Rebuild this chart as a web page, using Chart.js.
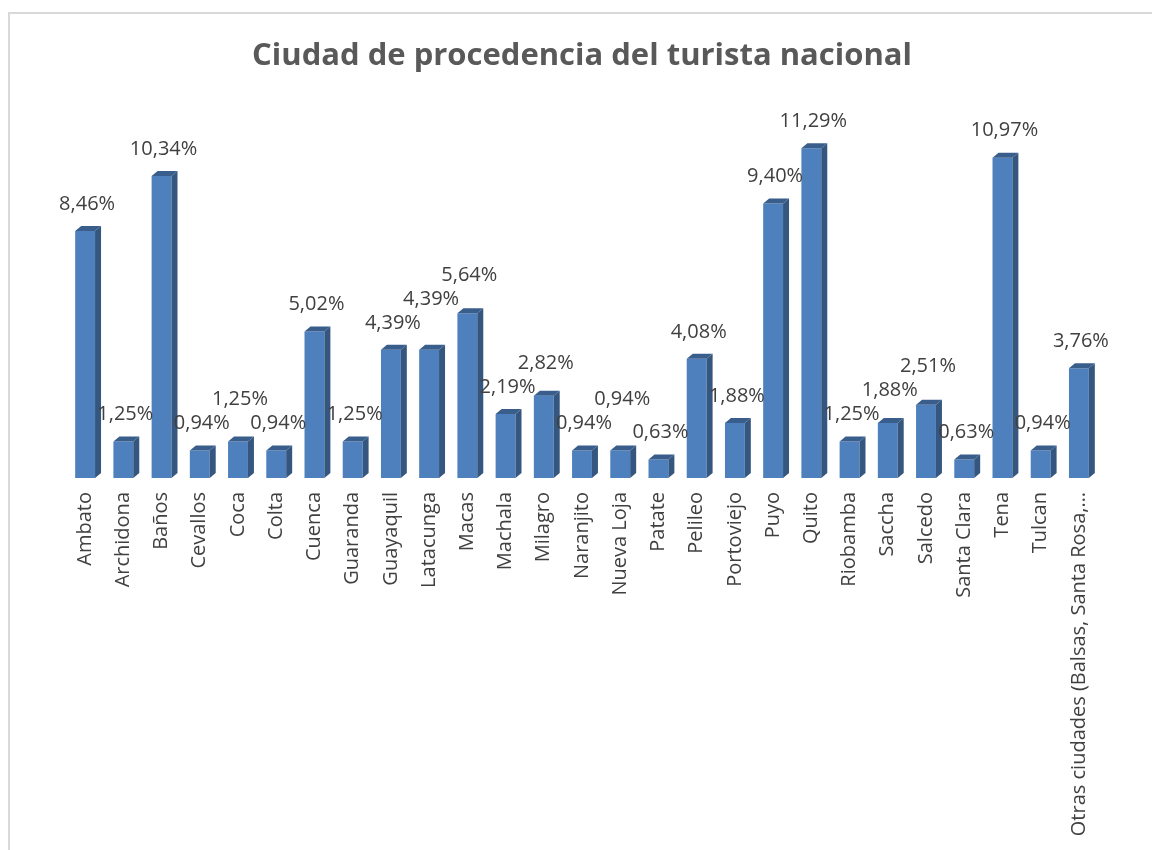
<!DOCTYPE html>
<html>
<head>
<meta charset="utf-8">
<script src="https://cdn.jsdelivr.net/npm/chart.js@4/dist/chart.umd.min.js"></script>
<style>
html,body{margin:0;padding:0;background:#fff;}
#wrap{position:relative;width:1152px;height:850px;}
</style>
</head>
<body>
<div id="wrap"><canvas id="c" width="1152" height="850"></canvas></div>
<script>
const categories = ["Ambato","Archidona","Baños","Cevallos","Coca","Colta","Cuenca","Guaranda","Guayaquil","Latacunga","Macas","Machala","Milagro","Naranjito","Nueva Loja","Patate","Pelileo","Portoviejo","Puyo","Quito","Riobamba","Saccha","Salcedo","Santa Clara","Tena","Tulcan","Otras ciudades (Balsas, Santa Rosa,…"];
const values = [8.46,1.25,10.34,0.94,1.25,0.94,5.02,1.25,4.39,4.39,5.64,2.19,2.82,0.94,0.94,0.63,4.08,1.88,9.40,11.29,1.25,1.88,2.51,0.63,10.97,0.94,3.76];
const titleText = "Ciudad de procedencia del turista nacional";

const FONT = "'Open Sans', 'DejaVu Sans', sans-serif";

const frame = {
  id: 'frame',
  beforeDraw(chart) {
    const ctx = chart.ctx;
    ctx.save();
    ctx.fillStyle = '#ffffff';
    ctx.fillRect(0, 0, chart.width, chart.height);
    ctx.strokeStyle = '#d9d9d9';
    ctx.lineWidth = 2;
    ctx.strokeRect(9, 13, chart.width + 20, chart.height + 20);
    ctx.restore();
  }
};

const bars3d = {
  id: 'bars3d',
  afterDatasetsDraw(chart) {
    const ctx = chart.ctx;
    const meta = chart.getDatasetMeta(0);
    const dx = 6, dy = 5;
    ctx.save();
    const placed = [];
    meta.data.forEach((bar, i) => {
      const p = bar.getProps(['x', 'y', 'base', 'width'], true);
      const l = p.x - p.width / 2, r = p.x + p.width / 2;
      ctx.fillStyle = '#34567f';
      ctx.beginPath();
      ctx.moveTo(r, p.y); ctx.lineTo(r + dx, p.y - dy); ctx.lineTo(r + dx, p.base - dy); ctx.lineTo(r, p.base);
      ctx.closePath(); ctx.fill();
      ctx.fillStyle = '#3a5e8c';
      ctx.beginPath();
      ctx.moveTo(l, p.y); ctx.lineTo(l + dx, p.y - dy); ctx.lineTo(r + dx, p.y - dy); ctx.lineTo(r, p.y);
      ctx.closePath(); ctx.fill();

      ctx.fillStyle = '#404040';
      ctx.font = "20px " + FONT;
      ctx.textAlign = 'center';
      ctx.textBaseline = 'middle';
      const txt = values[i].toFixed(2).replace('.', ',') + '%';
      const w = ctx.measureText(txt).width;
      const h = 22;
      const cx = p.x + 2;
      let cy = p.y - 27;
      let moved = true, guard = 0;
      while (moved && guard < 20) {
        moved = false; guard++;
        for (const b of placed) {
          if (Math.abs(b.cx - cx) < (b.w + w) / 2 && Math.abs(b.cy - cy) < h) {
            cy = b.cy - h - 2;
            moved = true;
          }
        }
      }
      placed.push({cx, cy, w});
      ctx.fillText(txt, cx, cy);
    });
    ctx.restore();
  }
};

new Chart(document.getElementById('c'), {
  type: 'bar',
  data: {
    labels: categories,
    datasets: [{
      data: values,
      backgroundColor: '#4d80bd',
      borderWidth: 0,
      barPercentage: 0.52,
      categoryPercentage: 1.0
    }]
  },
  options: {
    responsive: false,
    animation: false,
    events: [],
    layout: { padding: { left: 66, right: 54, top: 38, bottom: 0 } },
    plugins: {
      legend: { display: false },
      tooltip: { enabled: false },
      title: {
        display: true,
        text: titleText,
        color: '#595959',
        font: { family: FONT, size: 31, weight: 'bold', lineHeight: 1.2 },
        padding: { top: 0, bottom: 52.4 }
      }
    },
    scales: {
      y: { display: false, min: 0, max: 12 },
      x: {
        grid: { display: false },
        border: { display: false },
        ticks: {
          autoSkip: false,
          minRotation: 90,
          maxRotation: 90,
          padding: 6,
          color: '#404040',
          font: { family: FONT, size: 20 }
        },
        afterFit(scale) { scale.height = 372; }
      }
    }
  },
  plugins: [frame, bars3d]
});
</script>
</body>
</html>
